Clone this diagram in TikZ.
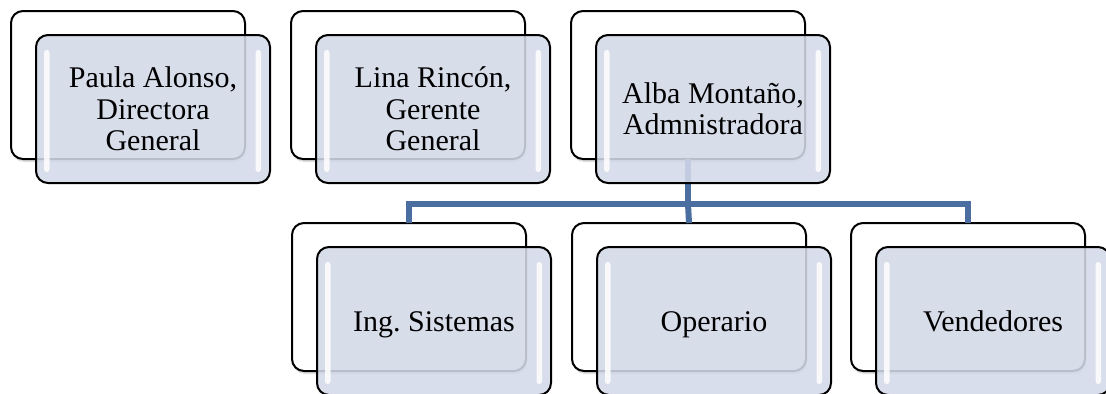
\documentclass[tikz,border=0pt]{standalone}
\usepackage{fontspec}
\setmainfont{Liberation Serif}
\usetikzlibrary{calc}
\definecolor{frontfill}{HTML}{D3D9E8}
\definecolor{connblue}{HTML}{4A6E9F}
\newcommand\topstrut{\rule{0pt}{20.5pt}}
\newcommand\botstrut{\rule[-5.5pt]{0pt}{5.5pt}}
\tikzset{
  backbox/.style={draw=black, line width=1.5pt, fill=white, rounded corners=9pt,
    minimum width=175.5pt, minimum height=111pt, inner sep=0pt, outer sep=0pt, anchor=north west},
  frontbox/.style={draw=black, line width=1.5pt, fill=frontfill, fill opacity=0.88, text opacity=1,
    rounded corners=9pt, minimum width=175.5pt, minimum height=111pt, inner sep=0pt, outer sep=0pt,
    anchor=north west, align=center, font=\frenchspacing\fontsize{22.5}{23.5}\selectfont},
  conn/.style={draw=connblue, line width=4.5pt},
  shine/.style={fill=white, fill opacity=0.85, rounded corners=2pt},
  shade/.style={fill=black!25, fill opacity=0.5, rounded corners=9pt}
}
\begin{document}
\begin{tikzpicture}[x=0.75pt, y=-0.75pt]
\useasboundingbox (0,0) rectangle (1106,393);
% back boxes with faint shadows
\foreach \n/\x/\y in {b1/11/11, b2/291/11, b3/571/11, b4/292/223, b5/572/223, b6/851/223}{
  \fill[shade] (\x+1,\y+3) rectangle ++(234,148);
}
\node[backbox] (b1) at (11,11) {};
\node[backbox] (b2) at (291,11) {};
\node[backbox] (b3) at (571,11) {};
\node[backbox] (b4) at (292,223) {};
\node[backbox] (b5) at (572,223) {};
\node[backbox] (b6) at (851,223) {};
% connectors
\draw[conn] (b3.south) -- ++(0,45) coordinate (j) -| (b4.north);
\draw[conn] (j) -| (b6.north);
\draw[conn] (j) -- (b5.north);
% front boxes
\node[frontbox] (f1) at (36,35) {\topstrut Paula Alonso,\\Directora\\General\botstrut};
\node[frontbox] (f2) at (316,35) {\topstrut Lina Rincón,\\Gerente\\General\botstrut};
\node[frontbox] (f3) at (596,35) {\topstrut Alba Montaño,\\Admnistradora\botstrut};
\node[frontbox] (f4) at (317,247) {\topstrut Ing. Sistemas\botstrut};
\node[frontbox] (f5) at (597,247) {\topstrut Operario\botstrut};
\node[frontbox] (f6) at (876,247) {\topstrut Vendedores\botstrut};
% glossy highlights
\foreach \f in {f1,f2,f3,f4,f5,f6}{
  \fill[shine] ($(\f.north west)+(8,15)$) rectangle ($(\f.south west)+(13.5,-11)$);
  \fill[shine] ($(\f.north east)+(-14.5,15)$) rectangle ($(\f.south east)+(-9,-11)$);
}
\end{tikzpicture}
\end{document}
